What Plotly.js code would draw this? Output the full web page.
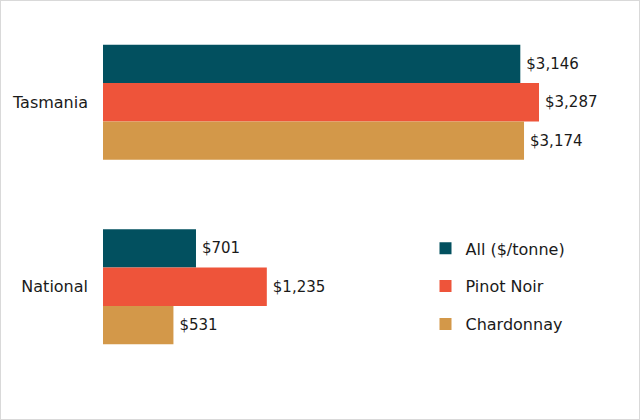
<!DOCTYPE html>
<html><head><meta charset="utf-8">
<script src="https://cdn.plot.ly/plotly-3.0.1.min.js"></script>
<style>html,body{margin:0;padding:0;background:#fff}#chart{width:638px;height:418px;border:1px solid #d9d9d9}</style>
</head><body><div id="chart"></div>
<script>
const categories = ['Tasmania', 'National'];
const seriesNames = ['All ($/tonne)', 'Pinot Noir', 'Chardonnay'];
const allValues = [3146, 701];
const pinotValues = [3287, 1235];
const chardValues = [3174, 531];
const colors = ['#02505f', '#ee543a', '#d39849'];

const values = [allValues, pinotValues, chardValues];
const fam = '"DejaVu Sans", sans-serif';
const labelFont = {family: fam, size: 15, color: '#1a1a1a'};
const textFont = {family: fam, size: 16, color: '#1a1a1a'};
const data = values.map((v, i) => ({
  type: 'bar', orientation: 'h', y: categories, x: v, name: seriesNames[i],
  legendgroup: 'g' + i,
  marker: {color: colors[i]},
  texttemplate: '\u2009$%{x:,}', textposition: 'outside', cliponaxis: false,
  textfont: labelFont, hoverinfo: 'skip'
}));
const layout = {
  width: 638, height: 418,
  margin: {l: 102, r: 20, t: 9, b: 40},
  paper_bgcolor: '#fff', plot_bgcolor: '#fff',
  font: textFont,
  barmode: 'group', bargap: 0.377, bargroupgap: 0,
  xaxis: {range: [0, 3890], visible: false, fixedrange: true},
  yaxis: {type: 'category', range: [1.5, -0.5], showgrid: false, zeroline: false, showline: false, ticks: '', ticklabelstandoff: 14, tickfont: textFont},
  showlegend: true,
  legend: {x: 0.625, y: 0.4, xanchor: 'left', yanchor: 'top', traceorder: 'grouped', tracegroupgap: 14, font: textFont, bgcolor: 'rgba(0,0,0,0)'}
};
Plotly.newPlot('chart', data, layout, {displayModeBar: false, staticPlot: true});
</script></body></html>
